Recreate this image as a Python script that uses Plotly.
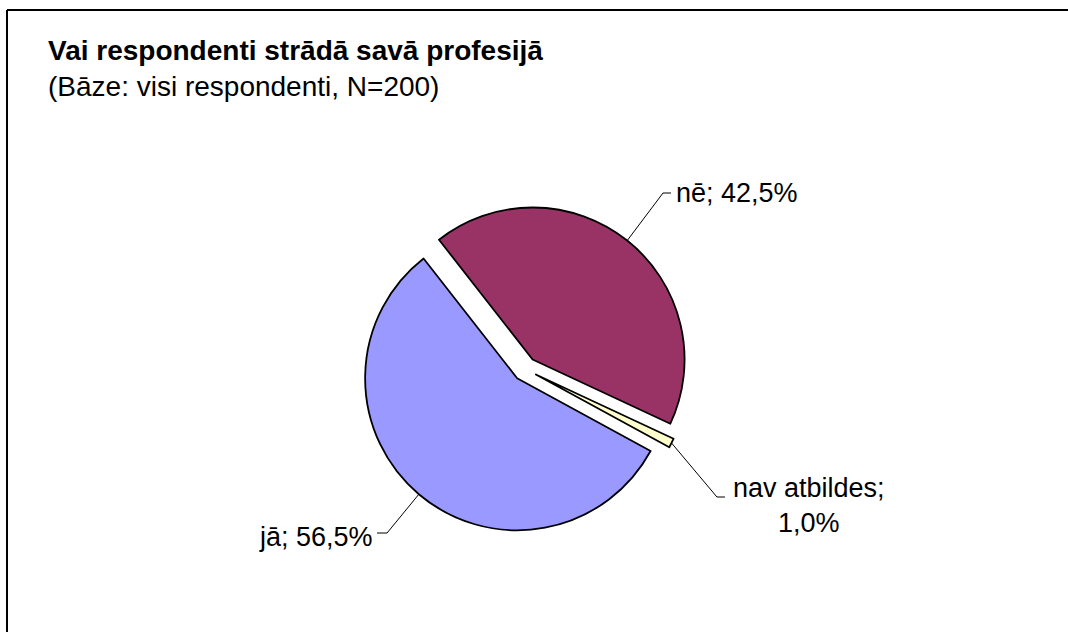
import math
import plotly.graph_objects as go

# ---- data ----
labels = ["jā", "nē", "nav atbildes"]
values = [56.5, 42.5, 1.0]
colors = ["#9999FF", "#993366", "#FFFFCC"]
title_text = "Vai respondenti strādā savā profesijā"
subtitle_text = "(Bāze: visi respondenti, N=200)"

# ---- layout constants (pixels) ----
W, H = 1068, 632
CX, CY = 525, 369      # pie centre
R = 152                # pie radius
PULL = 0.08
ROT = 118.6            # start angle, clockwise from 12 o'clock
FONT = "Liberation Sans, Arial"
FS = 27
FS_TITLE = 28

half = R * (1 + PULL)
dom_x = [(CX - half) / W, (CX + half) / W]
dom_y = [1 - (CY + half) / H, 1 - (CY - half) / H]

def px(x, y):
    return x / W, 1 - y / H

fig = go.Figure(go.Pie(
    labels=labels, values=values, sort=False, direction="clockwise",
    rotation=ROT, pull=[PULL] * len(values),
    marker=dict(colors=colors, line=dict(color="black", width=1.8)),
    textinfo="none", hoverinfo="label+percent", showlegend=False,
    domain=dict(x=dom_x, y=dom_y),
))

# leader lines computed from slice geometry
total = sum(values)
ang = ROT
mids = []
for v in values:
    span = v / total * 360
    mids.append(ang + span / 2)
    ang += span

# label placement: elbow point, line end, text anchor, anchor side
elbows = {
    "jā": ((387, 533), (377, 533), (375, 537), "right"),
    "nē": ((663, 193), (671, 193), (674, 193), "left"),
    "nav atbildes": ((717, 497), (725, 497), (809, 505), "center"),
}

shapes = []
annotations = []
for lab, v, m in zip(labels, values, mids):
    t = math.radians(m)
    dx, dy = math.sin(t), -math.cos(t)
    ccx = CX + PULL * R * dx
    ccy = CY + PULL * R * dy
    ex, ey = ccx + R * dx, ccy + R * dy
    (bx, by), (fx, fy), (tx, ty), anc = elbows[lab]
    path = "M {:.4f},{:.4f} L {:.4f},{:.4f} L {:.4f},{:.4f}".format(
        *px(ex, ey), *px(bx, by), *px(fx, fy))
    shapes.append(dict(type="path", xref="paper", yref="paper", path=path,
                       line=dict(color="black", width=1)))
    val = ("%.1f" % v).replace(".", ",") + "%"
    if lab == "nav atbildes":
        txt = lab + ";<br>" + val
    else:
        txt = lab + "; " + val
    axp, ayp = px(tx, ty)
    annotations.append(dict(x=axp, y=ayp, xref="paper", yref="paper",
                            text=txt, showarrow=False, xanchor=anc,
                            yanchor="middle", align="center",
                            font=dict(family=FONT, size=FS, color="black")))

# title and subtitle
tx0, ty0 = px(46, 51)
annotations.append(dict(x=tx0, y=ty0, xref="paper", yref="paper",
                        text="<b>" + title_text + "</b>", showarrow=False,
                        xanchor="left", yanchor="middle",
                        font=dict(family=FONT, size=FS_TITLE, color="black")))
tx1, ty1 = px(46, 86)
annotations.append(dict(x=tx1, y=ty1, xref="paper", yref="paper",
                        text=subtitle_text, showarrow=False,
                        xanchor="left", yanchor="middle",
                        font=dict(family=FONT, size=FS_TITLE, color="black")))

# chart frame (left and top visible)
shapes.append(dict(type="line", xref="paper", yref="paper",
                   x0=7 / W, x1=7 / W, y0=-0.05, y1=1 - 10 / H,
                   line=dict(color="black", width=2)))
shapes.append(dict(type="line", xref="paper", yref="paper",
                   x0=7 / W, x1=1.05, y0=1 - 10 / H, y1=1 - 10 / H,
                   line=dict(color="black", width=2)))

fig.update_layout(
    width=W, height=H, margin=dict(l=0, r=0, t=0, b=0),
    paper_bgcolor="white", plot_bgcolor="white",
    shapes=shapes, annotations=annotations,
)
fig.write_html("out.html", config={"displayModeBar": False},
               post_script="document.body.style.margin='0';"
                           "document.body.style.overflow='hidden';")
